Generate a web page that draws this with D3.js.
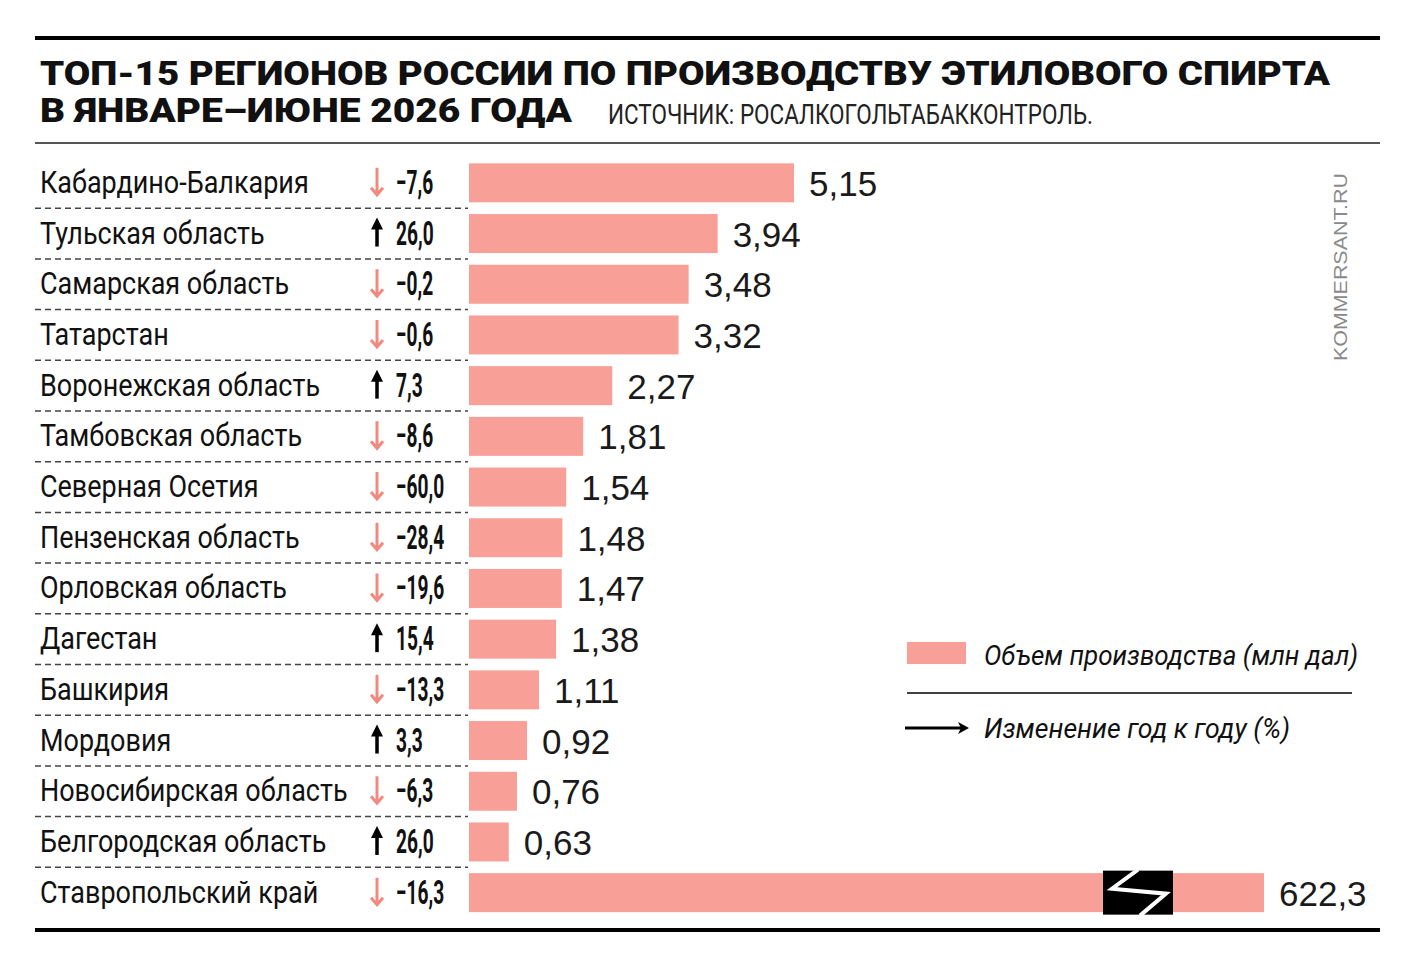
<!DOCTYPE html>
<html>
<head>
<meta charset="utf-8">
<script src="https://cdn.jsdelivr.net/npm/d3@7"></script>
<style>
  body { margin: 0; background: #fff; }
  .cond { font-family: "Roboto", "Liberation Sans", sans-serif; }
</style>
</head>
<body>
<div id="chart"></div>
<script>
// data
const regions = [
  "Кабардино-Балкария", "Тульская область", "Самарская область", "Татарстан",
  "Воронежская область", "Тамбовская область", "Северная Осетия", "Пензенская область",
  "Орловская область", "Дагестан", "Башкирия", "Мордовия",
  "Новосибирская область", "Белгородская область", "Ставропольский край"
];
const volumes = [5.15, 3.94, 3.48, 3.32, 2.27, 1.81, 1.54, 1.48, 1.47, 1.38, 1.11, 0.92, 0.76, 0.63, 622.3];
const changes = [-7.6, 26.0, -0.2, -0.6, 7.3, -8.6, -60.0, -28.4, -19.6, 15.4, -13.3, 3.3, -6.3, 26.0, -16.3];

const titleLines = ["ТОП-15 РЕГИОНОВ РОССИИ ПО ПРОИЗВОДСТВУ ЭТИЛОВОГО СПИРТА", "В ЯНВАРЕ–ИЮНЕ 2026 ГОДА"];
const sourceText = "ИСТОЧНИК: РОСАЛКОГОЛЬТАБАККОНТРОЛЬ.";
const legendLabels = ["Объем производства (млн дал)", "Изменение год к году (%)"];

const data = regions.map((r, i) => ({region: r, volume: volumes[i], change: changes[i]}));

const W = 1412, H = 963;
const barColor = "#f8a097";
const downColor = "#f08a80";

const svg = d3.select("#chart").append("svg")
    .attr("width", W)
    .attr("height", H);

// frame lines
svg.append("line").attr("x1", 35).attr("x2", 1380).attr("y1", 38).attr("y2", 38)
    .attr("stroke", "#000").attr("stroke-width", 4);
svg.append("line").attr("x1", 35).attr("x2", 1380).attr("y1", 143).attr("y2", 143)
    .attr("stroke", "#555").attr("stroke-width", 2);
svg.append("line").attr("x1", 35).attr("x2", 1380).attr("y1", 930).attr("y2", 930)
    .attr("stroke", "#000").attr("stroke-width", 4);

// title, two lines in one text block
let title = svg.append("text")
    .attr("font-family", "Roboto, sans-serif").attr("font-weight", 900)
    .attr("font-size", 33).attr("fill", "#111");
title.append("tspan").attr("x", 40).attr("y", 85)
    .attr("textLength", 1290).attr("lengthAdjust", "spacingAndGlyphs")
    .text(titleLines[0]);
title.append("tspan").attr("x", 40).attr("y", 121.5)
    .attr("textLength", 532).attr("lengthAdjust", "spacingAndGlyphs")
    .text(titleLines[1]);
svg.append("text").attr("class", "cond").attr("x", 608).attr("y", 124)
    .attr("font-size", 28).attr("textLength", 485).attr("lengthAdjust", "spacingAndGlyphs")
    .attr("fill", "#222")
    .text(sourceText);

// scales
const x0 = 469;
// broken scale: linear up to the break, then a compressed stretch for the outlier
const X_SCALE = d3.scaleLinear()
    .domain([0, 10.6, 600, 622.3])
    .range([0, 669, 700, 795]);

const Y_SCALE = d3.scaleBand()
    .domain(regions)
    .range([157.5, 918]);

const step = Y_SCALE.step();
const barH = 39;

// dashed separators
svg.append("g").selectAll("line")
    .data(regions.slice(1))
    .enter().append("line")
    .attr("x1", 35).attr("x2", 468)
    .attr("y1", d => Y_SCALE(d)).attr("y2", d => Y_SCALE(d))
    .attr("stroke", "#444").attr("stroke-width", 1.5)
    .attr("stroke-dasharray", "6,4");

// region labels (condensed by a horizontal squeeze)
svg.append("g").selectAll("text")
    .data(data)
    .enter().append("text")
    .attr("class", "cond")
    .attr("transform", d => "translate(40," + (Y_SCALE(d.region) + step / 2 + 10) + ") scale(0.87,1)")
    .attr("font-size", 31)
    .attr("fill", "#111")
    .text(d => d.region);

// bars
svg.append("g").selectAll("rect")
    .data(data)
    .enter().append("rect")
    .attr("x", x0)
    .attr("y", d => Y_SCALE(d.region) + (step - barH) / 2)
    .attr("width", d => X_SCALE(d.volume))
    .attr("height", barH)
    .attr("fill", barColor);

// axis break marker on the outlier bar
const outlier = data.filter(d => d.volume > 10.6);
const brk = svg.append("g").selectAll("g")
    .data(outlier)
    .enter().append("g")
    .attr("transform", d => "translate(" + (x0 + X_SCALE(10.6)) + "," + (Y_SCALE(d.region) + step / 2) + ")");
brk.append("rect")
    .attr("x", -35).attr("y", -22).attr("width", 70).attr("height", 44)
    .attr("fill", "#000");
brk.append("path")
    .attr("d", "M0,-23 L-26,-4 L28,1 L2,23")
    .attr("fill", "none").attr("stroke", "#fff").attr("stroke-width", 4)
    .attr("stroke-linejoin", "miter");

// value labels
const fmtVol = v => (v >= 100 ? v.toFixed(1) : v.toFixed(2)).replace(".", ",");
svg.append("g").selectAll("text")
    .data(data)
    .enter().append("text")
    .attr("x", d => x0 + X_SCALE(d.volume) + 15)
    .attr("y", d => Y_SCALE(d.region) + step / 2 + 13)
    .attr("font-family", "Liberation Sans, Arial, sans-serif")
    .attr("font-size", 35)
    .attr("fill", "#1a1a1a")
    .text(d => fmtVol(d.volume));

// change arrows
const arrowX = 377;
const arrows = svg.append("g").selectAll("g")
    .data(data)
    .enter().append("g")
    .attr("transform", d => "translate(" + arrowX + "," + (Y_SCALE(d.region) + step / 2) + ")");
arrows.filter(d => d.change < 0).append("path")
    .attr("d", "M0,-15 L0,12 M-6,5 L0,12 L6,5")
    .attr("fill", "none").attr("stroke", downColor).attr("stroke-width", 3);
arrows.filter(d => d.change >= 0).append("path")
    .attr("d", "M0,13 L0,-8")
    .attr("fill", "none").attr("stroke", "#000").attr("stroke-width", 3.5);
arrows.filter(d => d.change >= 0).append("path")
    .attr("d", "M-6,-4 L0,-16 L6,-4 Z")
    .attr("fill", "#000");

// change values
const fmtChg = v => (v < 0 ? "\u2212" : "") + Math.abs(v).toFixed(1).replace(".", ",");
svg.append("g").selectAll("text")
    .data(data)
    .enter().append("text")
    .attr("class", "cond")
    .attr("transform", d => "translate(396," + (Y_SCALE(d.region) + step / 2 + 11) + ") scale(0.58,1)")
    .attr("font-size", 33)
    .attr("font-weight", 700)
    .attr("fill", "#111")
    .text(d => fmtChg(d.change));

// legend
svg.append("rect").attr("x", 907).attr("y", 642).attr("width", 59).attr("height", 22)
    .attr("fill", barColor);
svg.append("text").attr("class", "cond").attr("x", 984).attr("y", 665)
    .attr("font-size", 28).attr("font-style", "italic")
    .attr("textLength", 374).attr("lengthAdjust", "spacingAndGlyphs")
    .attr("fill", "#111")
    .text(legendLabels[0]);
svg.append("line").attr("x1", 907).attr("x2", 1352).attr("y1", 693).attr("y2", 693)
    .attr("stroke", "#000").attr("stroke-width", 1.5);
svg.append("line").attr("x1", 905).attr("x2", 962).attr("y1", 728).attr("y2", 728)
    .attr("stroke", "#000").attr("stroke-width", 3);
svg.append("path").attr("d", "M958,722 L969,728 L958,734 L961,728 Z").attr("fill", "#000");
svg.append("text").attr("class", "cond").attr("x", 984).attr("y", 738)
    .attr("font-size", 28).attr("font-style", "italic")
    .attr("textLength", 306).attr("lengthAdjust", "spacingAndGlyphs")
    .attr("fill", "#111")
    .text(legendLabels[1]);

// watermark
svg.append("text")
    .attr("transform", "translate(1347,361) rotate(-90)")
    .attr("font-family", "Liberation Sans, Arial, sans-serif")
    .attr("font-size", 19)
    .attr("fill", "#8a8a8a")
    .attr("textLength", 188).attr("lengthAdjust", "spacingAndGlyphs")
    .text("KOMMERSANT.RU");
</script>
</body>
</html>
